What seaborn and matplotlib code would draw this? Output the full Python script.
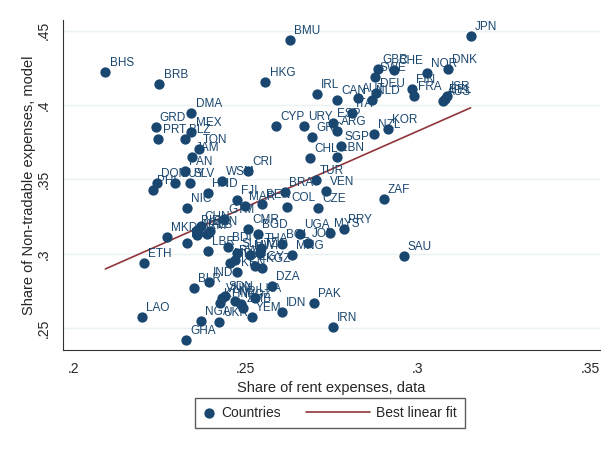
import matplotlib
matplotlib.use("Agg")
import numpy as np
import matplotlib.pyplot as plt
from matplotlib.legend_handler import HandlerLine2D
import seaborn as sns
import pandas as pd

# values
countries = [
    "BHS", "BRB", "BMU", "JPN", "HKG", "GBR", "CHE", "SWE", "NOR", "DNK",
    "FIN", "FRA", "ISR", "BEL", "AUS", "IRL", "CAN", "AUT", "DEU", "NLD",
    "ITA", "CYP", "URY", "ESP", "ARG", "GRC", "SGP", "NZL", "KOR", "CHL",
    "LBN", "DMA", "GRD", "PRT", "BLZ", "MEX", "TON", "JAM", "PAN", "CRI",
    "WSM", "HND", "DOM", "PHL", "SLV", "GUY", "NIC", "FJI", "BEN", "MAR",
    "GTM", "COL", "CZE", "BRA", "TUR", "VEN", "ZAF", "CHN", "SEN", "MKD",
    "BIH", "ALB", "ARM", "BTN", "LBR", "CMR", "BGD", "UGA", "MYS", "PRY",
    "BOL", "JOR", "THA", "ETH", "SAU", "IND", "BLR", "LAO", "GHA", "NGA",
    "UKR", "DZA", "LKA", "YEM", "IDN", "PAK", "IRN", "SDN", "RWA", "MWI",
    "TZA", "MNG", "KEN", "EGY", "KGZ", "MDG", "VNM", "KHM", "NPL", "MOZ",
    "ZMB", "BDI", "SLE",
]
rent_share = [
    0.2092, 0.2249, 0.2628, 0.3153, 0.2557, 0.2885, 0.2930, 0.2875, 0.3025, 0.3088,
    0.2983, 0.2989, 0.3084, 0.3078, 0.3073, 0.2706, 0.2765, 0.2826, 0.2878, 0.2866,
    0.2808, 0.2587, 0.2669, 0.2753, 0.2765, 0.2692, 0.2776, 0.2872, 0.2913, 0.2686,
    0.2765, 0.2342, 0.2238, 0.2246, 0.2323, 0.2342, 0.2363, 0.2343, 0.2323, 0.2506,
    0.2430, 0.2390, 0.2241, 0.2230, 0.2337, 0.2294, 0.2328, 0.2474, 0.2547, 0.2497,
    0.2436, 0.2619, 0.2709, 0.2613, 0.2703, 0.2733, 0.2901, 0.2369, 0.2395, 0.2270,
    0.2358, 0.2387, 0.2358, 0.2328, 0.2390, 0.2506, 0.2535, 0.2657, 0.2744, 0.2785,
    0.2605, 0.2680, 0.2544, 0.2203, 0.2959, 0.2392, 0.2349, 0.2198, 0.2326, 0.2369,
    0.2422, 0.2576, 0.2526, 0.2517, 0.2605, 0.2698, 0.2753, 0.2439, 0.2468, 0.2512,
    0.2541, 0.2634, 0.2474, 0.2526, 0.2547, 0.2453, 0.2430, 0.2424, 0.2468, 0.2485,
    0.2491, 0.2448, 0.2474,
]
nontradable_share = [
    0.4220, 0.4142, 0.4437, 0.4464, 0.4153, 0.4241, 0.4236, 0.4191, 0.4214, 0.4243,
    0.4108, 0.4061, 0.4061, 0.4041, 0.4028, 0.4075, 0.4034, 0.4048, 0.4081, 0.4034,
    0.3947, 0.3860, 0.3860, 0.3880, 0.3826, 0.3786, 0.3725, 0.3806, 0.3839, 0.3645,
    0.3651, 0.3945, 0.3851, 0.3770, 0.3770, 0.3817, 0.3705, 0.3651, 0.3557, 0.3557,
    0.3490, 0.3409, 0.3477, 0.3429, 0.3477, 0.3477, 0.3308, 0.3362, 0.3335, 0.3322,
    0.3235, 0.3315, 0.3308, 0.3416, 0.3497, 0.3423, 0.3369, 0.3188, 0.3154, 0.3114,
    0.3161, 0.3134, 0.3127, 0.3073, 0.3020, 0.3167, 0.3134, 0.3134, 0.3140, 0.3167,
    0.3066, 0.3073, 0.3039, 0.2939, 0.2986, 0.2811, 0.2771, 0.2576, 0.2421, 0.2549,
    0.2542, 0.2784, 0.2704, 0.2576, 0.2610, 0.2670, 0.2509, 0.2717, 0.2959, 0.2993,
    0.3006, 0.2993, 0.2878, 0.2919, 0.2905, 0.2939, 0.2704, 0.2670, 0.2683, 0.2663,
    0.2636, 0.3046, 0.3006,
]

df = pd.DataFrame({"country": countries, "rent": rent_share, "nt": nontradable_share})

navy = "#1a476f"
maroon = "#90353b"


class WideLineHandler(HandlerLine2D):
    # line sample that reaches back into the column gap, Stata style
    def get_xdata(self, legend, xdescent, ydescent, width, height, fontsize):
        xdata = np.array([-xdescent - 37.5, -xdescent + width])
        return xdata, xdata


sns.set_style("white")
plt.rcParams["font.family"] = ["Liberation Sans", "DejaVu Sans"]

fig = plt.figure(figsize=(6.13, 4.49), dpi=100)
ax = fig.add_axes([0.1028, 0.2205, 0.876, 0.735])

sns.scatterplot(data=df, x="rent", y="nt", color=navy, s=55, linewidth=0,
                ax=ax, label="Countries", zorder=3)
sns.regplot(data=df, x="rent", y="nt", scatter=False, ci=None, truncate=True,
            color=maroon, line_kws={"lw": 1.2, "zorder": 2}, ax=ax,
            label="Best linear fit")

for c, x, y in zip(countries, rent_share, nontradable_share):
    ax.annotate(c, (x, y), xytext=(3, 6.5), textcoords="offset points",
                fontsize=8.5, color=navy, va="center", ha="left", zorder=4)

ax.set_xlim(0.1969, 0.3529)
ax.set_ylim(0.2354, 0.4572)
ax.set_xticks([0.2, 0.25, 0.3, 0.35])
ax.set_xticklabels([".2", ".25", ".3", ".35"], fontsize=10)
ax.set_yticks([0.25, 0.3, 0.35, 0.4, 0.45])
ax.set_yticklabels([".25", ".3", ".35", ".4", ".45"], fontsize=10,
                   rotation=90, va="center")
ax.tick_params(direction="out", length=5, width=0.8, color="#333333")
ax.yaxis.grid(True, color="#eaf2f3", lw=1)
ax.set_axisbelow(True)
for side in ["top", "right"]:
    ax.spines[side].set_visible(False)
for side in ["left", "bottom"]:
    ax.spines[side].set_color("#333333")
    ax.spines[side].set_linewidth(0.8)

ax.set_xlabel("Share of rent expenses, data", fontsize=10.5)
ax.set_ylabel("Share of Non-tradable expenses, model", fontsize=10.5, labelpad=1)

handles, labels = ax.get_legend_handles_labels()
ax.get_legend().remove()
fig.legend(handles, labels, loc="center", bbox_to_anchor=(0.5385, 0.08), ncol=2,
           frameon=True, fancybox=False, edgecolor="#333333", fontsize=10,
           handlelength=0.8, handletextpad=0.5, columnspacing=5.6,
           borderpad=0.55, borderaxespad=0,
           handler_map={handles[1]: WideLineHandler()})

fig.savefig("out.png", dpi=100, facecolor="white")
